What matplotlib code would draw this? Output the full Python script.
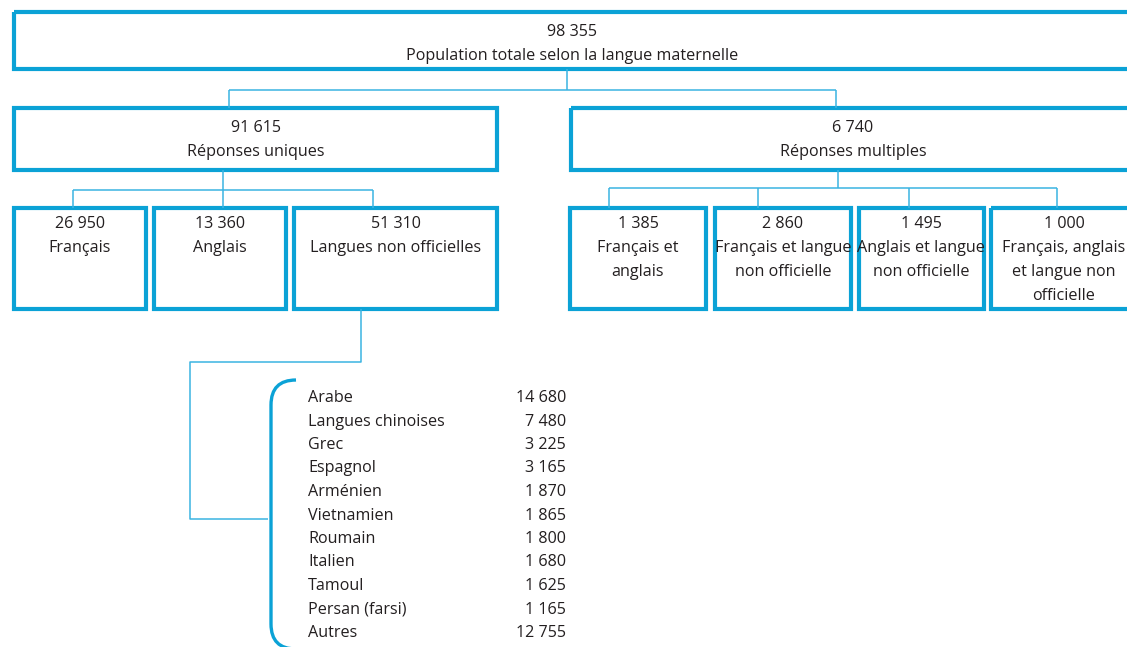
import matplotlib
matplotlib.use("Agg")
from matplotlib import pyplot as plt
from matplotlib.patches import Rectangle, PathPatch
from matplotlib.path import Path

plt.rcParams['font.family'] = ['Open Sans', 'DejaVu Sans']

# données
total = 98355
total_label = "Population totale selon la langue maternelle"
niveau2_labels = ["Réponses uniques", "Réponses multiples"]
niveau2_values = [91615, 6740]
uniques_labels = ["Français", "Anglais", "Langues non officielles"]
uniques_values = [26950, 13360, 51310]
multiples_labels = ["Français et\nanglais", "Français et langue\nnon officielle",
                    "Anglais et langue\nnon officielle", "Français, anglais\net langue non\nofficielle"]
multiples_values = [1385, 2860, 1495, 1000]
langues = ["Arabe", "Langues chinoises", "Grec", "Espagnol", "Arménien", "Vietnamien",
           "Roumain", "Italien", "Tamoul", "Persan (farsi)", "Autres"]
langues_values = [14680, 7480, 3225, 3165, 1870, 1865, 1800, 1680, 1625, 1165, 12755]

BOX = "#0ba2d6"
LINE = "#3ab4e2"
TXT = "#231f20"
FS = 11.6


def fmt(v):
    return f"{v:,}".replace(",", " ")


fig = plt.figure(figsize=(11.27, 6.47), dpi=100)
ax = fig.add_axes([0, 0, 1, 1])
ax.set_xlim(0, 1127)
ax.set_ylim(647, 0)
ax.axis("off")


def box(x0, x1, y0, y1, value, label, cx, ty):
    ax.add_patch(Rectangle((x0, y0), x1 - x0, y1 - y0, fill=False,
                           edgecolor=BOX, linewidth=3))
    ax.text(cx, ty, fmt(value) + "\n" + label, ha="center", va="top",
            fontsize=FS, color=TXT, linespacing=1.68)


def conn(xs, ys):
    ax.plot(xs, ys, color=LINE, linewidth=1.1, solid_capstyle="butt")


# niveau 1
box(14, 1131, 12, 69, total, total_label, 572, 24)

# connecteurs niveau 1 -> 2
conn([567, 567], [69, 90])
conn([229, 836], [90, 90])
conn([229, 229], [90, 108])
conn([836, 836], [90, 108])

# niveau 2
box(14, 497, 108, 170, niveau2_values[0], niveau2_labels[0], 256, 120)
box(571, 1140, 108, 170, niveau2_values[1], niveau2_labels[1], 853, 120)

# connecteurs niveau 2 -> 3
conn([223, 223], [170, 190])
conn([73, 373], [190, 190])
for x in [73, 223, 373]:
    conn([x, x], [190, 208])
conn([838, 838], [170, 188])
conn([609, 1057], [188, 188])
for x in [609, 758, 909, 1057]:
    conn([x, x], [188, 208])

# niveau 3
x3u = [(14, 146), (154, 286), (294, 497)]
for (a, b), lab, v in zip(x3u, uniques_labels, uniques_values):
    box(a, b, 208, 309, v, lab, (a + b) / 2, 216)

x3m = [(570, 706), (715, 851), (859, 984), (991, 1145)]
cx3m = [638, 783, 921, 1064]
for (a, b), cx, lab, v in zip(x3m, cx3m, multiples_labels, multiples_values):
    box(a, b, 208, 309, v, lab, cx, 216)

# connecteur vers la liste
conn([361, 361, 190, 190, 268], [309, 362, 362, 519, 519])

# accolade
r = 25
verts = [(296, 380), (271, 380), (271, 380 + r), (271, 624),
         (271, 624 + r), (296, 624 + r)]
codes = [Path.MOVETO, Path.CURVE3, Path.CURVE3, Path.LINETO, Path.CURVE3, Path.CURVE3]
ax.add_patch(PathPatch(Path(verts, codes), fill=False, edgecolor=BOX, linewidth=2.4))

# liste des langues
for i, (lab, v) in enumerate(zip(langues, langues_values)):
    y = 398 + i * 23.5
    ax.text(308, y, lab, ha="left", va="center", fontsize=FS, color=TXT)
    ax.text(566, y, fmt(v), ha="right", va="center", fontsize=FS, color=TXT)

fig.savefig("out.png", dpi=100)
